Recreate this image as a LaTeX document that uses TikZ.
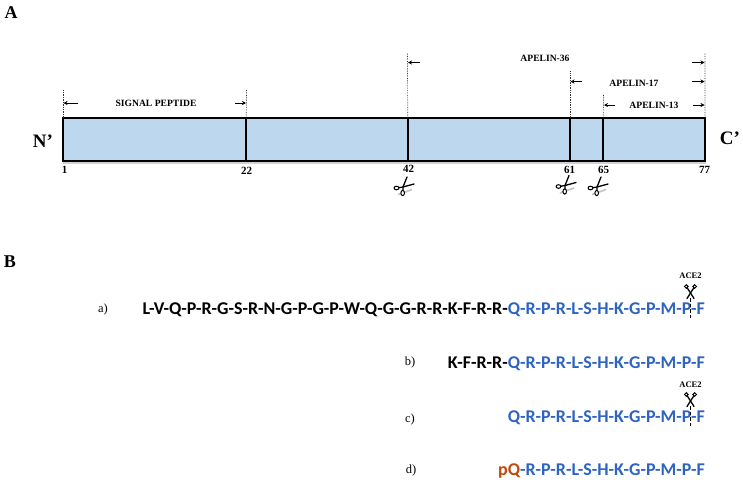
\documentclass[tikz,border=0pt]{standalone}
\usepackage{fontspec}
\setmainfont{Liberation Serif}
\newfontfamily\seqfont{Carlito}[Scale=1]
\usetikzlibrary{arrows.meta}
\definecolor{boxfill}{HTML}{BDD7EE}
\definecolor{seqblue}{HTML}{2E64C0}
\definecolor{pqred}{HTML}{C04A10}
\tikzset{
  paneltext/.style={font=\bfseries\fontsize{18}{18}\selectfont,inner sep=0pt},
  termtext/.style={font=\bfseries\fontsize{19}{19}\selectfont,inner sep=0pt},
  numtext/.style={font=\bfseries\fontsize{11}{11}\selectfont,inner sep=0pt},
  captext/.style={font=\bfseries\fontsize{9.6}{9.6}\selectfont,inner sep=0pt},
  itemtext/.style={font=\fontsize{12.5}{12.5}\selectfont,inner sep=0pt},
  acetext/.style={font=\bfseries\fontsize{8.5}{8.5}\selectfont,inner sep=0pt},
  seqtext/.style={font=\seqfont\bfseries\fontsize{17.95}{17.95}\selectfont,inner sep=0pt,anchor=base east},
  segbox/.style={draw=boxfill!45!white,line width=.9pt,fill=boxfill,inner sep=0pt,outer sep=0pt,minimum height=43pt,anchor=north west},
  outline/.style={draw=black,line width=2.2pt},
  divider/.style={draw=black,line width=2.2pt},
  guide/.style={densely dotted,line width=.7pt,black!80},
  dimarrow/.style={-{Stealth[length=4pt,width=4pt]},line width=.8pt},
  cutline/.style={dash pattern=on 3.5pt off 2pt,line width=1.2pt},
  blade/.style={line width=1.3pt,line cap=round},
  ringshape/.style={line width=1pt,fill=white},
  pics/scissA/.style={code={
    \draw[black!22,line width=1.8pt] (-5,7.5) -- (9,2.5);
    \draw[blade] (-6,1) -- (0,0) -- (11,-3);
    \draw[blade] (0,6) -- (0,0) -- (4,-10);
    \draw[ringshape] (-6.5,1) ellipse (2.4 and 1.8);
    \draw[ringshape] (-.3,6) ellipse (1.8 and 2.6);
  }},
  pics/scissB/.style={code={
    \draw[blade] (-3.5,-5) -- (3.5,6);
    \draw[blade] (3.5,-5) -- (-3.5,6);
    \draw[ringshape] (-4.2,-6) circle (1.8);
    \draw[ringshape] (4.2,-6) circle (1.8);
  }}
}
\begin{document}
\begin{tikzpicture}[x=1pt,y=-1pt]
\useasboundingbox (0,0) rectangle (743,483);
% shadow
\fill[black!18] (63,162) rectangle (706,164);
% segments
\node[segbox,minimum width=183.3pt] (s1) at (63,118) {};
\node[segbox,minimum width=161.4pt] (s2) at (246.3,118) {};
\node[segbox,minimum width=162.3pt] (s3) at (407.7,118) {};
\node[segbox,minimum width=33.3pt] (s4) at (570,118) {};
\node[segbox,minimum width=101.7pt] (s5) at (603.3,118) {};
\draw[divider] (s2.north west) -- (s2.south west);
\draw[divider] (s3.north west) -- (s3.south west);
\draw[divider] (s4.north west) -- (s4.south west);
\draw[divider] (s5.north west) -- (s5.south west);
\draw[outline] (s1.north west) rectangle (s5.south east);
% panel letters and termini
\node[paneltext] (A) at (11,13) {A};
\node[paneltext] (B) at (10,262) {B};
\node[termtext] (N) at (43,141) {N’};
\node[termtext] (C) at (730,138) {C’};
% residue numbers
\node[numtext] (n1) at (64.5,170) {1};
\node[numtext] (n22) at (246.5,170.5) {22};
\node[numtext] (n42) at (408.5,169) {42};
\node[numtext] (n61) at (569.5,170) {61};
\node[numtext] (n65) at (603.5,170) {65};
\node[numtext] (n77) at (704.5,170) {77};
% guides
\coordinate (g1) at (63,90);
\coordinate (g22) at (246.5,90);
\coordinate (g42) at (407.5,53);
\coordinate (g61) at (570,71);
\coordinate (g65) at (603.5,94);
\coordinate (g77) at (705,53);
\draw[guide] (s1.north west) -- (g1);
\draw[guide] (s2.north west) -- (g22);
\draw[guide] (s3.north west) -- (g42);
\draw[guide] (s4.north west) -- (g61);
\draw[guide] (s5.north west) -- (g65);
\draw[guide] (s5.north east) -- (g77);
% dimension labels
\node[captext] (sp) at (156,103) {SIGNAL PEPTIDE};
\node[captext] (a36) at (545,58.5) {APELIN-36};
\node[captext] (a17) at (634,83.5) {APELIN-17};
\node[captext] (a13) at (654,105) {APELIN-13};
% dimension arrows
\foreach \nm/\xa/\xb/\yy in {d1/78/63.5/103,d2/235/246/103,d3/420/408/62.5,d4/582/570.5/81.5,d5/615/604/105,d6/692/704.5/62.5,d7/692/704.5/81.5,d8/693/704.5/105}{
  \coordinate (\nm a) at (\xa,\yy);
  \coordinate (\nm b) at (\xb,\yy);
  \draw[dimarrow] (\nm a) -- (\nm b);
}
% scissors on the bar
\pic at (403,187) {scissA};
\pic at (565,185.5) {scissA};
\pic at (597,187) {scissA};
% sequences
\node[itemtext] (ia) at (103,309) {a)};
\node[itemtext] (ib) at (410,362.5) {b)};
\node[itemtext] (ic) at (410,419.5) {c)};
\node[itemtext] (id) at (411,470.5) {d)};
\node[seqtext] (sa) at (705,314.5) {\textcolor{black}{L-V-Q-P-R-G-S-R-N-G-P-G-P-W-Q-G-G-R-R-K-F-R-R-}\textcolor{seqblue}{Q-R-P-R-L-S-H-K-G-P-M-P-F}};
\node[seqtext] (sb) at (705,368) {\textcolor{black}{K-F-R-R-}\textcolor{seqblue}{Q-R-P-R-L-S-H-K-G-P-M-P-F}};
\node[seqtext] (sc) at (705,422) {\textcolor{seqblue}{Q-R-P-R-L-S-H-K-G-P-M-P-F}};
\node[seqtext] (sd) at (705,475) {\textcolor{pqred}{pQ}\textcolor{seqblue}{-R-P-R-L-S-H-K-G-P-M-P-F}};
% ACE2 cuts
\node[acetext] (ace1) at (690.5,276) {ACE2};
\node[acetext] (ace2) at (690.5,385) {ACE2};
\pic at (690.5,292.5) {scissB};
\pic at (690.5,400.5) {scissB};
\coordinate (c1a) at (690.5,298);
\coordinate (c1b) at (690.5,319);
\coordinate (c2a) at (690.5,406);
\coordinate (c2b) at (690.5,427);
\draw[cutline] (c1a) -- (c1b);
\draw[cutline] (c2a) -- (c2b);
\end{tikzpicture}
\end{document}
